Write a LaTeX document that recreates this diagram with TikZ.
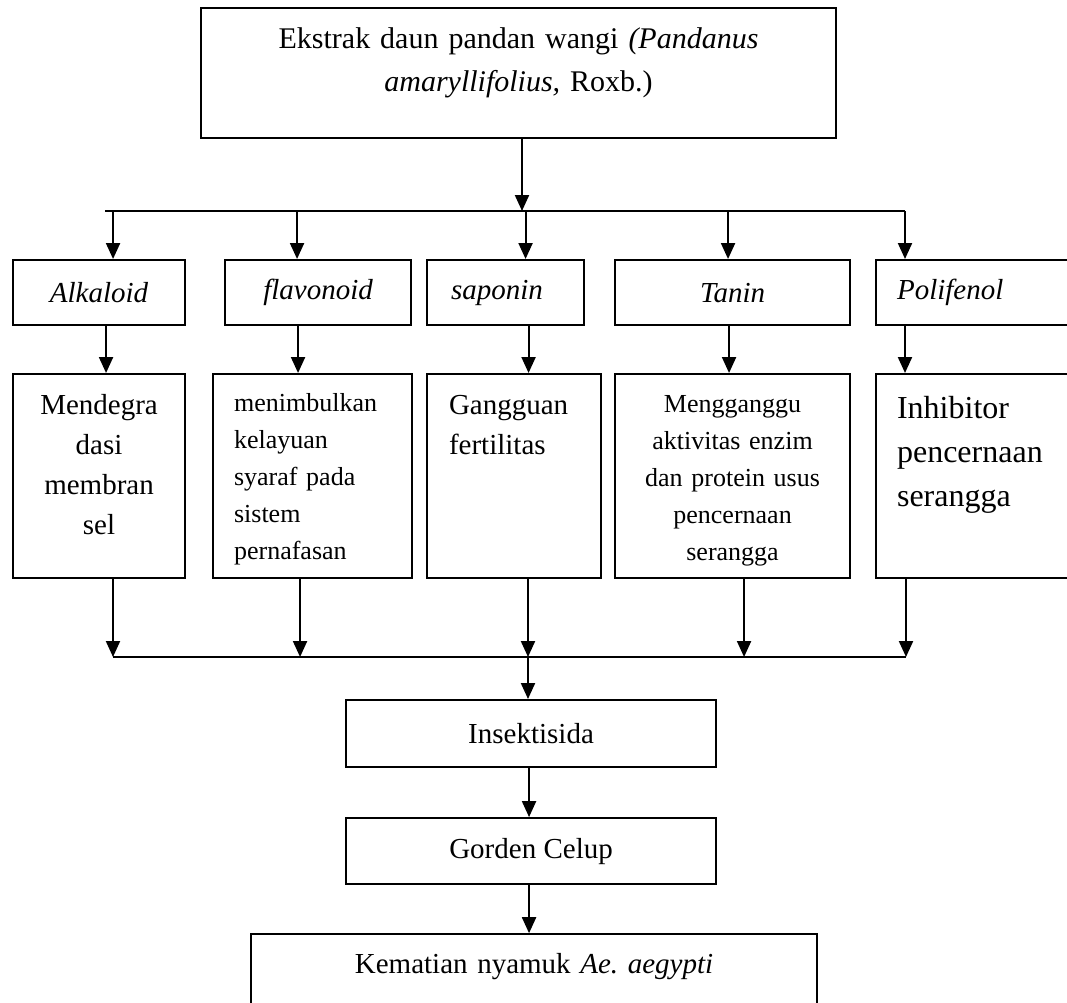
\documentclass[tikz,border=0pt]{standalone}
\usepackage{fontspec}
\setmainfont{Liberation Serif}
\usetikzlibrary{positioning,arrows.meta}

\begin{document}
\begin{tikzpicture}[x=1pt,y=-1pt]
	% gaya kotak dan panah
	\tikzstyle{kotak} = [rectangle, draw=black, line width=2.1pt, inner sep=0pt, text centered]	% kotak dasar
	\tikzstyle{senyawa} = [kotak, minimum height=65pt, font=\fontsize{29}{40}\selectfont\itshape]	% kandungan senyawa
	\tikzstyle{efek} = [kotak, text height=40pt, text depth=164pt, font=\fontsize{29}{40}\selectfont]	% efek senyawa
	\tikzstyle{proses} = [kotak, minimum width=370pt, minimum height=67pt, font=\fontsize{29}{40}\selectfont]	% tahap akhir
	\tikzstyle{arrow} = [line width=2.1pt, -{Triangle[length=16pt,width=14pt]}]	% panah
	\tikzstyle{garis} = [line width=2.1pt]	% garis cabang
	\useasboundingbox (0,0) rectangle (1067,1002);
	\clip (0,0) rectangle (1067,1002);

	\node (ekstrak) [kotak, anchor=north west, minimum width=635pt, text width=600pt, align=center, text height=40pt, text depth=90pt, font=\fontsize{30}{43}\selectfont] at (200,7) {Ekstrak daun pandan wangi \textit{(Pandanus}\\\textit{amaryllifolius,} Roxb.)};

	% kandungan senyawa
	\node (alkaloid) [senyawa, anchor=north west, minimum width=172pt] at (12,259) {Alkaloid};
	\node (flavonoid) [senyawa, anchor=north west, minimum width=186pt] at (224,259) {flavonoid};
	\node (saponin) [senyawa, anchor=north west, minimum width=157pt, text width=109pt, align=left] at (426,259) {saponin};
	\node (tanin) [senyawa, anchor=north west, minimum width=235pt] at (614,259) {Tanin};
	\node (polifenol) [senyawa, anchor=north west, minimum width=200pt, text width=158pt, align=left] at (875,259) {Polifenol};

	% efek tiap senyawa
	\node (degradasi) [efek, anchor=north west, minimum width=172pt, text width=150pt, align=center] at (12,373) {Mendegra\\dasi\\membran\\sel};
	\node (kelayuan) [efek, anchor=north west, minimum width=199pt, text width=157pt, align=left, text height=37pt, text depth=167pt, font=\fontsize{26}{37}\selectfont] at (212,373) {menimbulkan\\kelayuan\\syaraf pada\\sistem\\pernafasan};
	\node (fertilitas) [efek, anchor=north west, minimum width=174pt, text width=130pt, align=left] at (426,373) {Gangguan\\fertilitas};
	\node (enzim) [efek, anchor=north west, minimum width=235pt, text width=215pt, align=center, text height=38pt, text depth=166pt, font=\fontsize{26}{37}\selectfont] at (614,373) {Mengganggu\\aktivitas enzim\\dan protein usus\\pencernaan\\serangga};
	\node (inhibitor) [efek, anchor=north west, minimum width=200pt, text width=158pt, align=left, text height=44pt, text depth=160pt, font=\fontsize{32}{44}\selectfont] at (875,373) {Inhibitor\\pencernaan\\serangga};

	% tahap akhir
	\node (insektisida) [proses, anchor=north west] at (345,699) {Insektisida};
	\node (gorden) [proses, minimum height=66pt, below=49pt of insektisida] {Gorden Celup};
	\node (kematian) [kotak, minimum width=566pt, text width=540pt, align=center, text height=39pt, text depth=100pt, font=\fontsize{29}{40}\selectfont, below=48pt of gorden, xshift=3pt] {Kematian nyamuk \textit{Ae.\ aegypti}};

	% titik cabang
	\coordinate (cabang) at (522,211);
	\coordinate (cabangkiri) at (105,211);
	\coordinate (cabangkanan) at (905,211);
	\coordinate (gabung) at (528,657);
	\coordinate (gabungkiri) at (113,657);
	\coordinate (gabungkanan) at (906,657);

	% hubungkan kotak
	\draw [arrow] (cabang |- ekstrak.south) -- (cabang);
	\draw [garis] (cabangkiri) -- (cabangkanan);
	\draw [arrow] ([xshift=14pt]alkaloid.north |- cabang) -- ([xshift=14pt]alkaloid.north);
	\draw [arrow] ([xshift=-21pt]flavonoid.north |- cabang) -- ([xshift=-21pt]flavonoid.north);
	\draw [arrow] ([xshift=20pt]saponin.north |- cabang) -- ([xshift=20pt]saponin.north);
	\draw [arrow] ([xshift=-4.5pt]tanin.north |- cabang) -- ([xshift=-4.5pt]tanin.north);
	\draw [arrow] (cabangkanan) -- (cabangkanan |- polifenol.north);

	\draw [arrow] ([xshift=7pt]alkaloid.south) -- ([xshift=7pt]degradasi.north);
	\draw [arrow] ([xshift=-20pt]flavonoid.south) -- ([xshift=-20pt]flavonoid.south |- kelayuan.north);
	\draw [arrow] ([xshift=23pt]saponin.south) -- ([xshift=23pt]saponin.south |- fertilitas.north);
	\draw [arrow] ([xshift=-3.5pt]tanin.south) -- ([xshift=-3.5pt]enzim.north);
	\draw [arrow] ([xshift=30pt]polifenol.south west) -- ([xshift=30pt]inhibitor.north west);

	\draw [arrow] (gabungkiri |- degradasi.south) -- (gabungkiri);
	\draw [arrow] ([xshift=-12.5pt]kelayuan.south) -- ([xshift=-12.5pt]kelayuan.south |- gabung);
	\draw [arrow] (gabung |- fertilitas.south) -- (gabung);
	\draw [arrow] ([xshift=11.5pt]enzim.south) -- ([xshift=11.5pt]enzim.south |- gabung);
	\draw [arrow] (gabungkanan |- inhibitor.south) -- (gabungkanan);
	\draw [garis] (gabungkiri) -- (gabungkanan);

	\draw [arrow] (gabung) -- (gabung |- insektisida.north);
	\draw [arrow] ([xshift=-2pt]insektisida.south) -- ([xshift=-2pt]gorden.north);
	\draw [arrow] ([xshift=-2pt]gorden.south) -- ([xshift=-2pt]gorden.south |- kematian.north);
\end{tikzpicture}
\end{document}
